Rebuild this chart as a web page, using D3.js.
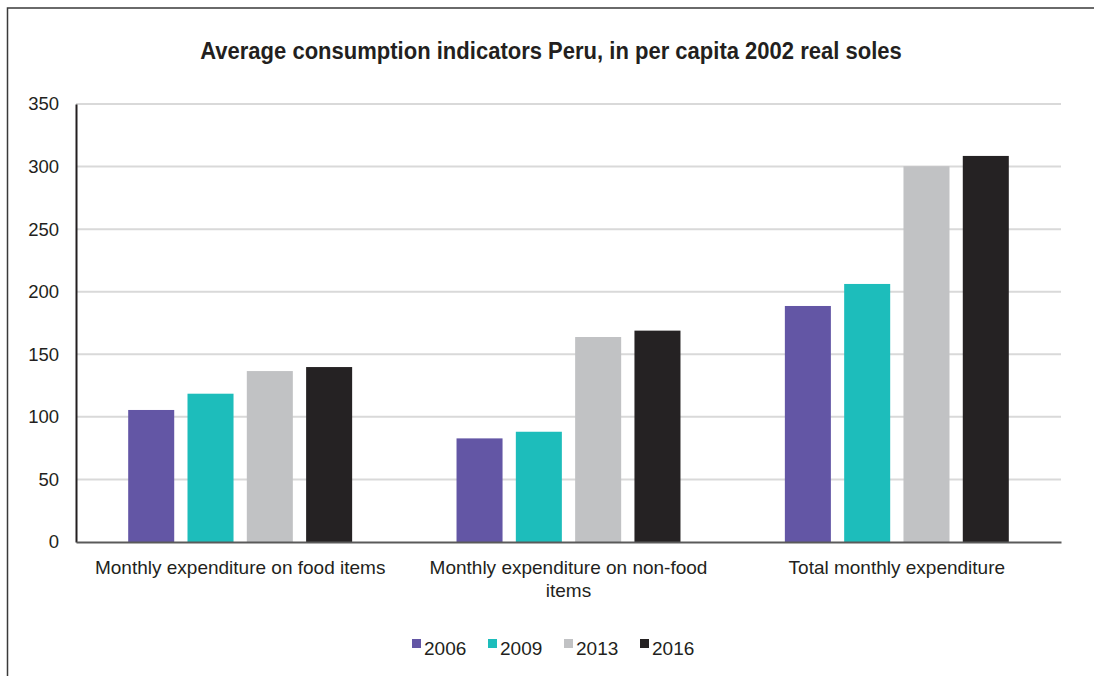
<!DOCTYPE html>
<html>
<head>
<meta charset="utf-8">
<script src="https://cdn.jsdelivr.net/npm/d3@7"></script>
<style>
  html, body { margin: 0; padding: 0; background: #fff; overflow: hidden; }
  svg { display: block; }
</style>
</head>
<body>
<svg id="chart" width="1094" height="676"></svg>
<script>
// Average consumption indicators, per capita, 2002 real soles
const categories = [
  "Monthly expenditure on food items",
  "Monthly expenditure on non-food items",
  "Total monthly expenditure"
];
const years = ["2006", "2009", "2013", "2016"];
const values2006 = [105.5, 82.8, 188.6];
const values2009 = [118.5, 88.1, 206.2];
const values2013 = [136.6, 163.8, 300.3];
const values2016 = [139.8, 168.9, 308.5];
const yTicks = [0, 50, 100, 150, 200, 250, 300, 350];
const colors = ["#6356a5", "#1dbdbb", "#c1c2c4", "#252223"];
const titleText = "Average consumption indicators Peru, in per capita 2002 real soles";

const seriesValues = [values2006, values2009, values2013, values2016];
const rows = categories.map((c, i) => ({
  category: c,
  bars: years.map((y, j) => ({ year: y, value: seriesValues[j][i], color: colors[j] }))
}));

const svg = d3.select("#chart");
const plot = { left: 76, right: 1061, top: 104, bottom: 542 };

// outer frame
svg.append("rect")
  .attr("x", 7.5).attr("y", 8)
  .attr("width", 1200).attr("height", 1000)
  .attr("fill", "none")
  .attr("stroke", "#3a3a3a")
  .attr("stroke-width", 1.5);

// title: bold face narrowed horizontally to a condensed width
const titleCx = 551;
const titleWidth = 702;
const title = svg.append("text")
  .attr("x", 0).attr("y", 0)
  .attr("text-anchor", "middle")
  .style("font-family", "'Liberation Sans', Arial, sans-serif")
  .style("font-weight", "bold")
  .style("font-size", "23.5px")
  .attr("fill", "#231f20")
  .text(titleText);
const tw = title.node().getComputedTextLength();
const sx = tw > 0 ? titleWidth / tw : 1;
title.attr("transform", `translate(${titleCx},59) scale(${sx},1)`);

const y = d3.scaleLinear().domain([0, 350]).range([plot.bottom, plot.top]);
const x0 = d3.scaleBand().domain(categories).range([plot.left, plot.right]).padding(0);
const x1 = d3.scaleBand().domain(years).range([0, x0.bandwidth()])
  .paddingInner(0.224).paddingOuter(0.88);

// gridlines
svg.append("g")
  .selectAll("line")
  .data(yTicks.filter(t => t > 0))
  .join("line")
  .attr("x1", plot.left).attr("x2", plot.right)
  .attr("y1", d => y(d)).attr("y2", d => y(d))
  .attr("stroke", "#d9d9d9")
  .attr("stroke-width", 2);

// bars
const groups = svg.append("g")
  .selectAll("g")
  .data(rows)
  .join("g")
  .attr("transform", d => `translate(${x0(d.category)},0)`);

groups.selectAll("rect")
  .data(d => d.bars)
  .join("rect")
  .attr("x", d => x1(d.year))
  .attr("width", x1.bandwidth())
  .attr("y", d => y(d.value))
  .attr("height", d => y(0) - y(d.value))
  .attr("fill", d => d.color);

// y axis
const yAxis = svg.append("g")
  .attr("transform", `translate(${plot.left},0)`)
  .call(d3.axisLeft(y).tickValues(yTicks).tickSize(0).tickPadding(17).tickFormat(d3.format("d")));
yAxis.select(".domain").attr("stroke", "#231f20").attr("stroke-width", 2);
yAxis.selectAll("text")
  .style("font-family", "'Liberation Sans', Arial, sans-serif")
  .style("font-size", "18.5px")
  .attr("fill", "#231f20");

// x axis
const xAxis = svg.append("g")
  .attr("transform", `translate(0,${plot.bottom})`)
  .call(d3.axisBottom(x0).tickSize(0).tickPadding(0).tickFormat(""));
xAxis.select(".domain").attr("stroke", "#5a5a5a").attr("stroke-width", 2);

// category labels, wrapped
const labelFont = "'Liberation Sans', Arial, sans-serif";
const catLabels = svg.append("g")
  .selectAll("text")
  .data(categories)
  .join("text")
  .attr("x", d => x0(d) + x0.bandwidth() / 2)
  .attr("y", 574)
  .attr("text-anchor", "middle")
  .style("font-family", labelFont)
  .style("font-size", "19px")
  .attr("fill", "#231f20");

catLabels.each(function (d) {
  const t = d3.select(this);
  const words = d.split(" ");
  let line = [];
  let tspan = t.append("tspan").attr("x", t.attr("x")).attr("dy", 0);
  words.forEach(w => {
    line.push(w);
    tspan.text(line.join(" "));
    if (tspan.node().getComputedTextLength() > 310 && line.length > 1) {
      line.pop();
      tspan.text(line.join(" "));
      line = [w];
      tspan = t.append("tspan").attr("x", t.attr("x")).attr("dy", 23).text(w);
    }
  });
});

// legend
const legend = svg.append("g")
  .selectAll("g")
  .data(years)
  .join("g")
  .attr("transform", (d, i) => `translate(${412 + i * 76},0)`);
legend.append("rect")
  .attr("x", 0).attr("y", 639)
  .attr("width", 9).attr("height", 9)
  .attr("fill", (d, i) => colors[i]);
legend.append("text")
  .attr("x", 12).attr("y", 655)
  .style("font-family", labelFont)
  .style("font-size", "19px")
  .attr("fill", "#231f20")
  .text(d => d);
</script>
</body>
</html>
